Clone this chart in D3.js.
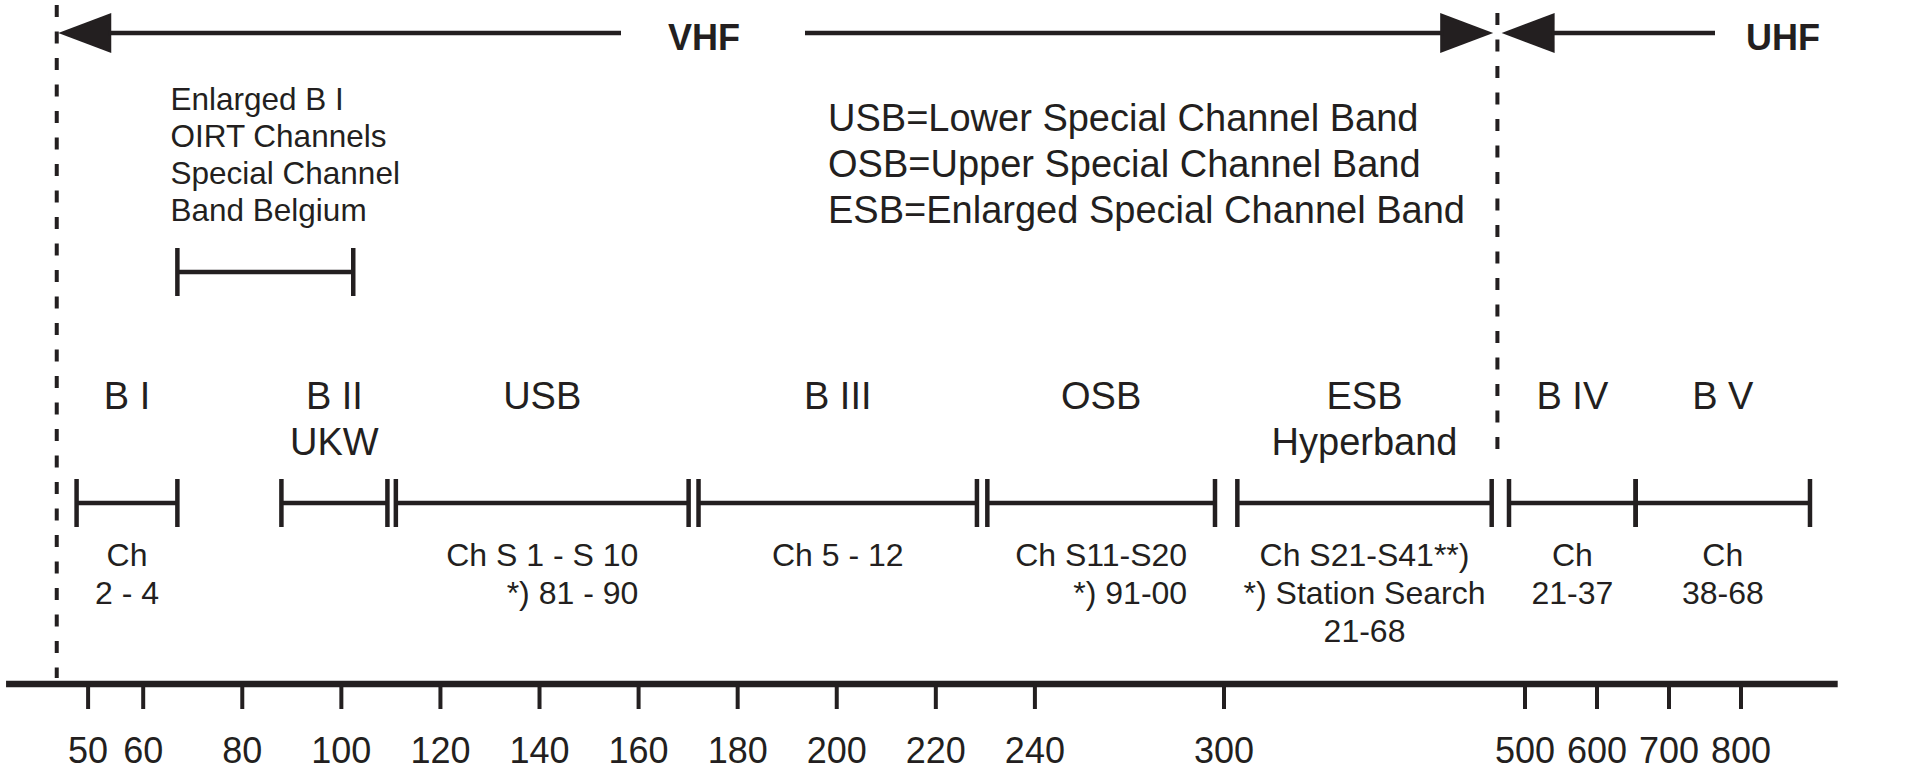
<!DOCTYPE html>
<html>
<head>
<meta charset="utf-8">
<script src="https://cdn.jsdelivr.net/npm/d3@7"></script>
<style>
  body { margin: 0; background: #fff; }
  svg { display: block; }
  text { font-family: "Liberation Sans", Arial, Helvetica, sans-serif; fill: #231f20; }
</style>
</head>
<body>
<div id="chart"></div>
<script>
// frequency ticks on the bottom axis (MHz)
var tickValues = [50, 60, 80, 100, 120, 140, 160, 180, 200, 220, 240, 300, 500, 600, 700, 800];

// bands, start / end in MHz
var bandNames = ["B I", "B II", "USB", "B III", "OSB", "ESB", "B IV", "B V"];
var bandSubNames = ["", "UKW", "", "", "", "Hyperband", "", ""];
var bandStart = [48, 88, 111.1, 172.2, 230.5, 309.2, 489.7, 654.4];
var bandEnd = [67, 109.4, 170.2, 228.4, 297.3, 478.2, 654.4, 896.5];
var bandChannels = [
  ["Ch", "2 - 4"],
  [],
  ["Ch S 1 - S 10", "*) 81 - 90"],
  ["Ch 5 - 12"],
  ["Ch S11-S20", "*) 91-00"],
  ["Ch S21-S41**)", "*) Station Search", "21-68"],
  ["Ch", "21-37"],
  ["Ch", "38-68"]
];
// second channel line sits flush right under the first one
var flushRightBands = ["USB", "OSB"];

var enlargedRange = [67, 102.5];
var enlargedText = ["Enlarged B I", "OIRT Channels", "Special Channel", "Band Belgium"];

var legendText = [
  "USB=Lower Special Channel Band",
  "OSB=Upper Special Channel Band",
  "ESB=Enlarged Special Channel Band"
];

var rangeNames = ["VHF", "UHF"];
var vhfLimits = [44.4, 482];     // the two dashed lines
var axisExtent = [35.2, 935];    // ends of the frequency axis line

// ---- layout ----
var width = 1921, height = 770;
var ink = "#231f20";
var axisY = 684, barY = 503, bracketY = 272, arrowY = 33;

// broken axis: piecewise linear
var x = d3.scaleLinear()
    .domain([50, 60, 240, 300, 500, 800])
    .range([87.6, 142.7, 1034.4, 1223.5, 1524.5, 1740.5]);

var svg = d3.select("#chart").append("svg")
    .attr("width", width)
    .attr("height", height)
    .style("background", "#fff");

// dashed VHF / UHF borders
svg.append("line")
    .attr("x1", x(vhfLimits[0])).attr("x2", x(vhfLimits[0]))
    .attr("y1", 5).attr("y2", 678)
    .style("stroke", ink).style("stroke-width", 4)
    .style("stroke-dasharray", "12, 14.5");
svg.append("line")
    .attr("x1", x(vhfLimits[1])).attr("x2", x(vhfLimits[1]))
    .attr("y1", 13).attr("y2", 457)
    .style("stroke", ink).style("stroke-width", 4)
    .style("stroke-dasharray", "12, 14.5");

// header arrows
function arrowHead(tip, dir) {
  // dir = -1 points left, 1 points right
  var back = tip - dir * 53;
  return [[tip, arrowY], [back, arrowY - 20], [back, arrowY + 20]];
}
var vhfLeftTip = x(vhfLimits[0]) + 1.5;
var vhfRightTip = x(vhfLimits[1]) - 4.2;
var uhfTip = x(vhfLimits[1]) + 4.2;
var vhfLabelX = 704, uhfLineEnd = 1715, uhfLabelX = 1746;

var heads = [arrowHead(vhfLeftTip, -1), arrowHead(vhfRightTip, 1), arrowHead(uhfTip, -1)];
svg.selectAll(".head").data(heads).enter().append("polygon")
    .attr("class", "head")
    .attr("points", function(d) { return d.join(" "); })
    .style("fill", ink);

var shafts = [
  [vhfLeftTip + 50, vhfLabelX - 83],
  [vhfLabelX + 101, vhfRightTip - 50],
  [uhfTip + 50, uhfLineEnd]
];
svg.selectAll(".shaft").data(shafts).enter().append("line")
    .attr("x1", function(d) { return d[0]; })
    .attr("x2", function(d) { return d[1]; })
    .attr("y1", arrowY).attr("y2", arrowY)
    .style("stroke", ink).style("stroke-width", 4.5);

svg.append("text").attr("x", vhfLabelX).attr("y", 50)
    .attr("text-anchor", "middle")
    .style("font-size", "36px").style("font-weight", "bold")
    .text(rangeNames[0]);
svg.append("text").attr("x", uhfLabelX).attr("y", 50)
    .style("font-size", "36px").style("font-weight", "bold")
    .text(rangeNames[1]);

// enlarged B I note + bracket
svg.append("g").selectAll("text").data(enlargedText).enter().append("text")
    .attr("x", 170.5)
    .attr("y", function(d, i) { return 110 + i * 37; })
    .style("font-size", "31.5px")
    .text(function(d) { return d; });

svg.append("line")
    .attr("x1", x(enlargedRange[0])).attr("x2", x(enlargedRange[1]))
    .attr("y1", bracketY).attr("y2", bracketY)
    .style("stroke", ink).style("stroke-width", 4.5);
svg.selectAll(".btick").data(enlargedRange).enter().append("line")
    .attr("class", "btick")
    .attr("x1", function(d) { return x(d); }).attr("x2", function(d) { return x(d); })
    .attr("y1", bracketY - 24).attr("y2", bracketY + 24)
    .style("stroke", ink).style("stroke-width", 4.5);

// legend
svg.append("g").selectAll("text").data(legendText).enter().append("text")
    .attr("x", 828)
    .attr("y", function(d, i) { return 131 + i * 46; })
    .style("font-size", "38px")
    .text(function(d) { return d; });

// bands
var bands = bandNames.map(function(name, i) {
  return { name: name, sub: bandSubNames[i], start: bandStart[i], end: bandEnd[i], ch: bandChannels[i] };
});

var bandG = svg.selectAll(".band").data(bands).enter().append("g")
    .attr("class", "band");

bandG.append("line")
    .attr("x1", function(d) { return x(d.start); })
    .attr("x2", function(d) { return x(d.end); })
    .attr("y1", barY).attr("y2", barY)
    .style("stroke", ink).style("stroke-width", 4.5);

bandG.selectAll(".etick").data(function(d) { return [d.start, d.end]; }).enter().append("line")
    .attr("class", "etick")
    .attr("x1", function(d) { return x(d); }).attr("x2", function(d) { return x(d); })
    .attr("y1", barY - 24).attr("y2", barY + 24)
    .style("stroke", ink).style("stroke-width", 4.5);

function mid(d) { return (x(d.start) + x(d.end)) / 2; }

bandG.append("text")
    .attr("x", mid).attr("y", 409)
    .attr("text-anchor", "middle")
    .style("font-size", "38px")
    .text(function(d) { return d.name; });
bandG.append("text")
    .attr("x", mid).attr("y", 455)
    .attr("text-anchor", "middle")
    .style("font-size", "38px")
    .text(function(d) { return d.sub; });

bandG.each(function(d) {
  var g = d3.select(this);
  var cx = mid(d);
  var firstW = 0;
  d.ch.forEach(function(line, i) {
    var t = g.append("text")
        .attr("y", 566 + i * 38)
        .style("font-size", "32px")
        .text(line);
    if (i == 1 && flushRightBands.indexOf(d.name) >= 0) {
      t.attr("x", cx + firstW / 2).attr("text-anchor", "end");
    } else {
      t.attr("x", cx).attr("text-anchor", "middle");
    }
    if (i == 0) firstW = t.node().getComputedTextLength();
  });
});

// frequency axis
svg.append("line")
    .attr("x1", x(axisExtent[0])).attr("x2", x(axisExtent[1]))
    .attr("y1", axisY).attr("y2", axisY)
    .style("stroke", ink).style("stroke-width", 6.5);

var xAxis = d3.axisBottom(x).tickValues(tickValues).tickSize(25).tickFormat(d3.format("d"));
var axisG = svg.append("g")
    .attr("transform", "translate(0," + axisY + ")")
    .call(xAxis);
axisG.select(".domain").remove();
axisG.selectAll(".tick line").style("stroke", ink).style("stroke-width", 4);
axisG.selectAll(".tick text")
    .attr("y", 79).attr("dy", null)
    .style("font-size", "36px")
    .style("font-family", "'Liberation Sans', Arial, sans-serif")
    .style("fill", ink);
</script>
</body>
</html>
